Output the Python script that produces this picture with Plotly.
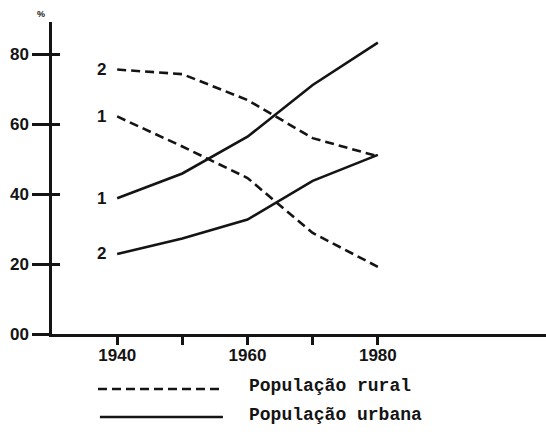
import plotly.graph_objects as go

years = [1940, 1950, 1960, 1970, 1980]
rural_1 = [62.2, 53.6, 44.6, 28.9, 19.2]
rural_2 = [75.6, 74.3, 66.9, 56.0, 50.8]
urban_1 = [38.8, 45.9, 56.4, 71.2, 83.3]
urban_2 = [22.9, 27.3, 32.7, 43.8, 51.2]

y_ticks = [0, 20, 40, 60, 80]
y_tick_labels = ["00", "20", "40", "60", "80"]
x_ticks = [1940, 1950, 1960, 1970, 1980]
x_tick_labels = ["1940", "", "1960", "", "1980"]

legend_rural = "População rural"
legend_urban = "População urbana"
unit_label = "%"

INK = "#141414"
dash = "9px,5px"

fig = go.Figure()
for ys in (rural_1, rural_2):
    fig.add_trace(go.Scatter(x=years, y=ys, mode="lines",
                             line=dict(color=INK, width=2.6, dash=dash),
                             showlegend=False, hoverinfo="skip"))
for ys in (urban_1, urban_2):
    fig.add_trace(go.Scatter(x=years, y=ys, mode="lines",
                             line=dict(color=INK, width=2.6),
                             showlegend=False, hoverinfo="skip"))

# dummy trace on the overlaying axis so inside ticks are drawn
fig.add_trace(go.Scatter(x=[years[0]], y=[y_ticks[0]], yaxis="y2", mode="markers",
                         marker=dict(opacity=0), showlegend=False, hoverinfo="skip"))

# series number labels
for ys, lab in ((rural_2, "2"), (rural_1, "1"), (urban_1, "1"), (urban_2, "2")):
    fig.add_annotation(x=years[0], y=ys[0], text=lab, showarrow=False,
                       xshift=-16, xanchor="center", yanchor="middle",
                       font=dict(family="Liberation Sans", size=17, color=INK, weight="bold"))

tick_font = dict(family="Liberation Sans", size=17, color=INK, weight="bold")

fig.update_layout(
    width=546, height=432,
    margin=dict(l=52, r=0, t=22, b=98),
    paper_bgcolor="white", plot_bgcolor="white",
    xaxis=dict(range=[1930, 2005.8], tickvals=x_ticks, ticktext=x_tick_labels,
               ticks="outside", ticklen=8, tickwidth=2.5, tickcolor=INK,
               ticklabelstandoff=-4,
               showline=True, linecolor=INK, linewidth=2.5, automargin=False,
               showgrid=False, zeroline=False, tickfont=tick_font),
    yaxis=dict(range=[0, 89.2], tickvals=y_ticks, ticktext=y_tick_labels,
               ticks="outside", ticklen=17, tickwidth=2.5, tickcolor=INK,
               showline=True, linecolor=INK, linewidth=2.5, automargin=False,
               showgrid=False, zeroline=False, tickfont=tick_font),
    yaxis2=dict(range=[0, 89.2], overlaying="y", anchor="x", side="left",
                tickvals=y_ticks, ticks="inside", ticklen=8, tickwidth=2.5,
                tickcolor=INK, showticklabels=False, showline=False, automargin=False,
                showgrid=False, zeroline=False),
    showlegend=False,
)

# unit label
fig.add_annotation(xref="paper", yref="paper", x=-0.023, y=1.026, text=unit_label,
                   showarrow=False, xanchor="center", yanchor="middle",
                   font=dict(family="Liberation Sans", size=9, color=INK, weight="bold"))

# custom legend
fig.add_shape(type="line", xref="paper", yref="paper", x0=0.0931, x1=0.346,
              y0=-0.1763, y1=-0.1763, line=dict(color=INK, width=2.4, dash=dash))
fig.add_shape(type="line", xref="paper", yref="paper", x0=0.097, x1=0.346,
              y0=-0.266, y1=-0.266, line=dict(color=INK, width=2.4))
for yy, txt in ((-0.1667, legend_rural), (-0.2596, legend_urban)):
    fig.add_annotation(xref="paper", yref="paper", x=0.3947, y=yy, text=txt,
                       showarrow=False, xanchor="left", yanchor="middle",
                       font=dict(family="Liberation Mono", size=18, color=INK, weight="bold"))

fig.write_html("out.html", config={"displayModeBar": False},
               post_script="document.body.style.margin='0';document.body.style.overflow='hidden';")
